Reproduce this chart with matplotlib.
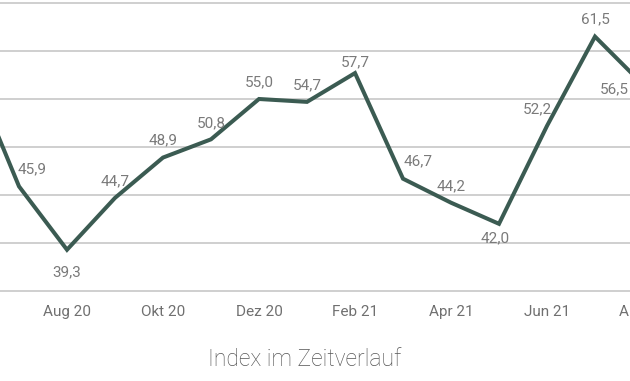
import matplotlib.pyplot as plt

plt.rcParams['font.family'] = ['Roboto', 'DejaVu Sans']

months = ["Jun 20", "Jul 20", "Aug 20", "Sep 20", "Okt 20", "Nov 20", "Dez 20",
          "Jan 21", "Feb 21", "Mär 21", "Apr 21", "Mai 21", "Jun 21", "Jul 21", "Aug 21"]
values = [58.0, 45.9, 39.3, 44.7, 48.9, 50.8, 55.0, 54.7, 57.7, 46.7, 44.2, 42.0, 52.2, 61.5, 56.5]

# label offsets in pixels (dx, dy), chosen to keep labels clear of the line
offsets = [(0, 17), (13, 17), (0, -23), (0, 17), (0, 17), (0, 16), (0, 17),
           (0, 17), (0, 11), (15, 17), (0, 16), (-4, -14), (-10, 17), (0, 17), (-29, -5)]

line_color = "#3b5b52"
x_left, x_right = 29 / 48, 659 / 48

fig = plt.figure(figsize=(6.3, 3.81), dpi=100)
ax = fig.add_axes([0, 0.2336, 1, 0.7664])

x = list(range(len(months)))
ax.plot(x, values, color=line_color, linewidth=2.9, solid_joinstyle="miter", zorder=3)

for xi, v, (dx, dy) in zip(x, values, offsets):
    if xi < x_left:
        continue  # first month sits off the left edge, its label too
    ax.annotate(f"{v:.1f}".replace(".", ","), (xi, v), xytext=(dx, dy),
                textcoords="offset pixels", ha="center", va="center",
                fontsize=11, color="#7a7a7a", zorder=4, annotation_clip=False)

ax.set_yticks([35, 40, 45, 50, 55, 60, 65])
ax.yaxis.grid(True, color="#cccccc", linewidth=1.3)
ax.set_axisbelow(True)
ax.tick_params(axis="y", left=False, labelleft=False)

# month labels drawn by hand so the last one (cut by the edge) still shows
ax.set_xticks([])
for i in x[2::2]:
    ax.annotate(months[i], (i, 0), xycoords=ax.get_xaxis_transform(),
                xytext=(0, -20), textcoords="offset pixels", ha="center", va="center",
                fontsize=11, color="#707070", annotation_clip=False)

ax.set_xlim(x_left, x_right)
ax.set_ylim(34.9, 65.31)

for s in ax.spines.values():
    s.set_visible(False)

fig.text(305 / 630, 1 - 359 / 381, "Index im Zeitverlauf", ha="center", va="center",
         fontsize=16.5, color="#555555", fontweight="light")

fig.savefig("out.png", dpi=100)
